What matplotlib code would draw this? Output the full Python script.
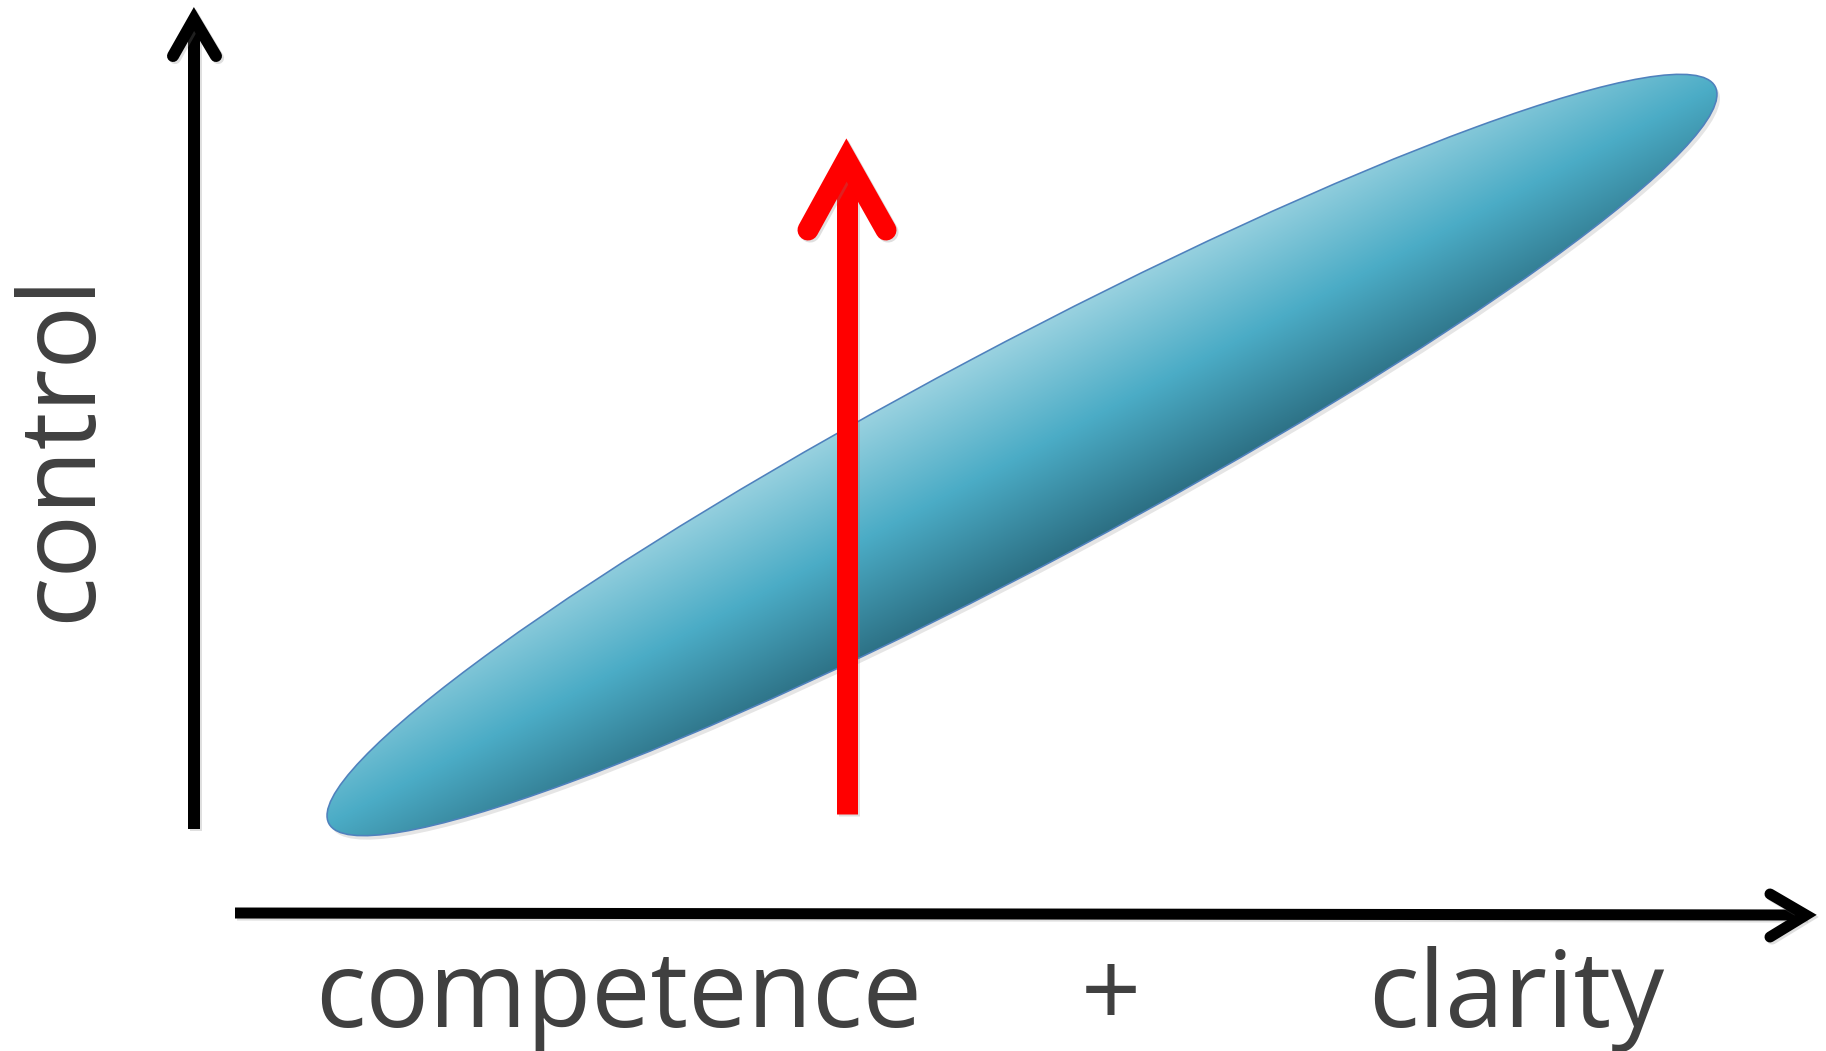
import numpy as np
import matplotlib
matplotlib.use("Agg")
import matplotlib.pyplot as plt
from matplotlib.patches import Ellipse
import matplotlib.patheffects as pe

W, H = 1826, 1051

# everything is laid out in image pixel coordinates (y grows downward)
ell_center = (1022, 455)
ell_width = 1570
ell_height = 216
ell_angle = 28.0

y_arrow_shaft = [(194, 829), (194, 19)]
y_arrow_head = [(173, 56), (194, 19), (216, 56)]
x_arrow_shaft = [(235, 913), (1806, 915)]
x_arrow_head = [(1770, 894), (1806, 915), (1770, 937)]
red_shaft = [(846.5, 814), (846.5, 175)]
red_head = [(808, 230), (846.5, 160), (886, 230)]

x_labels = ["competence", "+", "clarity"]
x_label_pos = [(619, 1027), (1111, 1027), (1516, 1027)]
y_label = "control"
y_label_pos = (90, 447)

grad_colors = ["#9ad2e0", "#4bacc6", "#2c6f83"]

fig = plt.figure(figsize=(W / 100, H / 100), dpi=100)
ax = fig.add_axes([0, 0, 1, 1])
ax.set_xlim(0, W)
ax.set_ylim(H, 0)
ax.axis("off")

px = 72 / 100  # points per pixel

# ellipse with a linear gradient fill across its short axis
ell = Ellipse(ell_center, ell_width, ell_height, angle=-ell_angle,
              facecolor="none", edgecolor="#4f81bd", lw=1.6 * px, zorder=3)
shadow = Ellipse((ell_center[0] + 3, ell_center[1] + 4), ell_width, ell_height,
                 angle=-ell_angle, facecolor="#000000", alpha=0.10, lw=0, zorder=1)
ax.add_patch(shadow)
ax.add_patch(ell)

xx, yy = np.meshgrid(np.arange(W) + 0.5, np.arange(H) + 0.5)
g = np.radians(ell_angle)
v = (xx - ell_center[0]) * np.sin(g) + (yy - ell_center[1]) * np.cos(g)
t = np.clip(v / (ell_height / 2), -1, 1)
c0, c1, c2 = [np.array(matplotlib.colors.to_rgb(c)) for c in grad_colors]
img = np.where(t[..., None] < 0,
               c1 + (c0 - c1) * (-t[..., None]),
               c1 + (c2 - c1) * t[..., None])
im = ax.imshow(img, extent=[0, W, H, 0], zorder=2, interpolation="bilinear")
im.set_clip_path(ell)


def draw_arrow(shaft, head, color, width_px):
    sh = [pe.SimpleLineShadow(offset=(1.5, -1.5), alpha=0.25, shadow_color="gray"), pe.Normal()]
    xs, ys = zip(*shaft)
    ax.plot(xs, ys, color=color, lw=width_px * px, solid_capstyle="butt",
            zorder=4, path_effects=sh)
    xs, ys = zip(*head)
    ax.plot(xs, ys, color=color, lw=width_px * px, solid_capstyle="round",
            solid_joinstyle="miter", zorder=4, path_effects=sh)


draw_arrow(y_arrow_shaft, y_arrow_head, "black", 12)
draw_arrow(x_arrow_shaft, x_arrow_head, "black", 11)
draw_arrow(red_shaft, red_head, "#ff0000", 21)

txt = dict(color="#404040", family="Open Sans")
for lab, (x, y) in zip(x_labels, x_label_pos):
    ax.text(x, y, lab, ha="center", va="baseline", fontsize=76, **txt)
ax.text(y_label_pos[0], y_label_pos[1], y_label, rotation=90, rotation_mode="anchor",
        ha="center", va="baseline", fontsize=76, **txt)

fig.savefig("out.png", dpi=100, facecolor="white")
